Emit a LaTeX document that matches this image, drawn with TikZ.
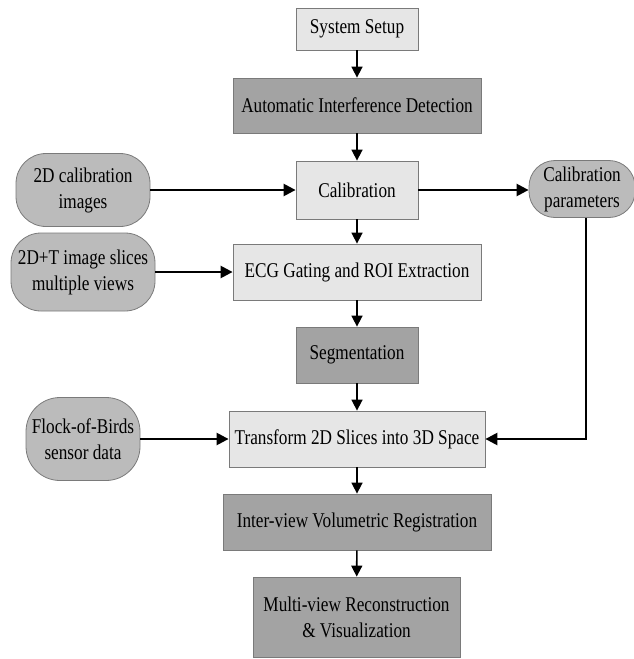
\documentclass[tikz,border=0pt]{standalone}
\usepackage{fontspec}
\setmainfont{Liberation Serif}
\usetikzlibrary{arrows.meta}
\definecolor{lightbox}{HTML}{E6E6E6}
\definecolor{darkbox}{HTML}{A3A3A3}
\definecolor{ovalfill}{HTML}{BBBBBB}
\definecolor{edgegray}{HTML}{7A7A7A}
\newcommand\nt[1]{\scalebox{0.82}[1]{#1}}
\tikzset{
  base/.style={draw=edgegray, line width=0.8pt, align=center, inner sep=0pt,
    font=\fontsize{21}{26}\selectfont},
  lightstep/.style={base, fill=lightbox},
  darkstep/.style={base, fill=darkbox},
  ovalbox/.style={base, fill=ovalfill, rounded corners=30pt},
  vflow/.style={line width=1.6pt, -{Triangle[length=11pt,width=11pt]}},
  hflow/.style={line width=2.4pt, -{Triangle[length=12pt,width=12pt]}}
}
\begin{document}
\begin{tikzpicture}[x=1pt,y=-1pt]
\useasboundingbox (0,0) rectangle (633,659);
\node[lightstep, minimum width=122pt, minimum height=42pt] (sys) at (357,29) {\nt{System Setup}};
\node[darkstep, minimum width=248pt, minimum height=55pt] (aid) at (357,105.5) {\nt{Automatic Interference Detection}};
\node[lightstep, minimum width=122pt, minimum height=58pt] (cal) at (357,190) {\nt{Calibration}};
\node[lightstep, minimum width=248pt, minimum height=56pt] (ecg) at (357,272) {\nt{ECG Gating and ROI Extraction}};
\node[darkstep, minimum width=122pt, minimum height=56pt] (seg) at (357,355) {\nt{Segmentation}};
\node[lightstep, minimum width=256pt, minimum height=56pt] (tr) at (357,439) {\nt{Transform 2D Slices into 3D Space}};
\node[darkstep, minimum width=268pt, minimum height=56pt] (reg) at (357,522) {\nt{Inter-view Volumetric Registration}};
\node[darkstep, minimum width=207pt, minimum height=80pt] (mv) at (356.5,617) {\nt{Multi-view Reconstruction}\\\nt{\& Visualization}};

\node[ovalbox, minimum width=134pt, minimum height=73pt] (c2d) at (83,190) {\nt{2D calibration}\\\nt{images}};
\node[ovalbox, rounded corners=26pt, minimum width=106pt, minimum height=57pt] (calp) at (582,189) {\nt{Calibration}\\\nt{parameters}};
\node[ovalbox, minimum width=144pt, minimum height=78pt] (img) at (83,272) {\nt{2D+T image slices}\\\nt{multiple views}};
\node[ovalbox, rounded corners=34pt, minimum width=114pt, minimum height=83pt] (fob) at (83,439) {\nt{Flock-of-Birds}\\\nt{sensor data}};

\draw[vflow] (sys) -- (aid);
\draw[vflow] (aid) -- (cal);
\draw[vflow] (cal) -- (ecg);
\draw[vflow] (ecg) -- (seg);
\draw[vflow] (seg) -- (tr);
\draw[vflow] (tr) -- (reg);
\draw[vflow] (reg) -- (mv);

\draw[hflow] (c2d.east) -- (cal.west);
\draw[hflow] (cal.east) -- (cal.east -| calp.west);
\draw[hflow] (img.east) -- (ecg.west);
\draw[hflow] (fob.east) -- (tr.west);
\draw[hflow] ([xshift=4pt]calp.south) |- (tr.east);
\end{tikzpicture}
\end{document}
